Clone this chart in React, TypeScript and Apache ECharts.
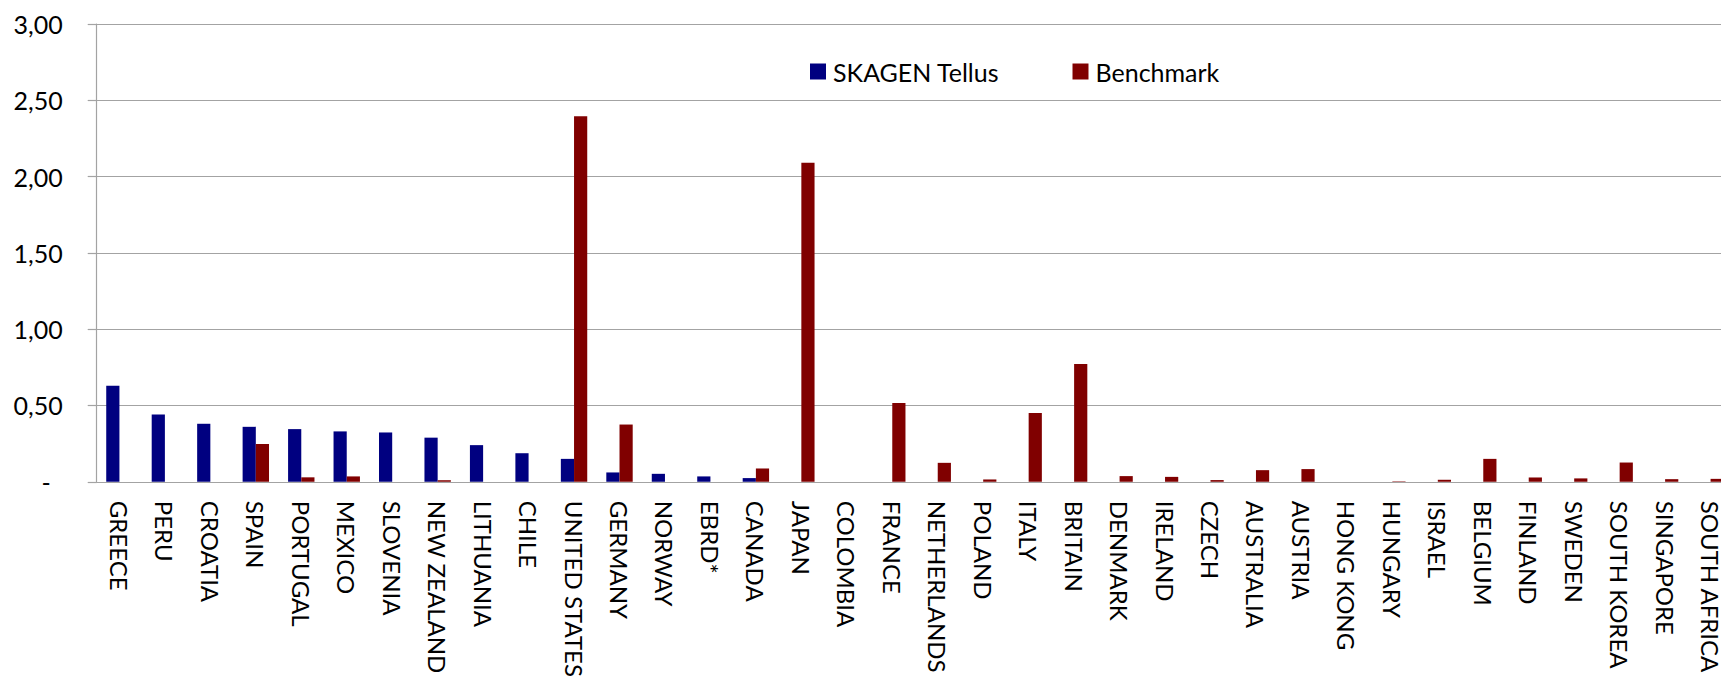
import React, { useEffect, useRef } from "react";
import * as echarts from "echarts";

// Country weights, fund vs. benchmark
const categories = [
  "GREECE", "PERU", "CROATIA", "SPAIN", "PORTUGAL", "MEXICO", "SLOVENIA",
  "NEW ZEALAND", "LITHUANIA", "CHILE", "UNITED STATES", "GERMANY", "NORWAY",
  "EBRD*", "CANADA", "JAPAN", "COLOMBIA", "FRANCE", "NETHERLANDS", "POLAND",
  "ITALY", "BRITAIN", "DENMARK", "IRELAND", "CZECH", "AUSTRALIA", "AUSTRIA",
  "HONG KONG", "HUNGARY", "ISRAEL", "BELGIUM", "FINLAND", "SWEDEN",
  "SOUTH KOREA", "SINGAPORE", "SOUTH AFRICA",
];

const tellusValues = [
  0.63, 0.44, 0.38, 0.36, 0.345, 0.33, 0.323, 0.289, 0.24, 0.187, 0.15, 0.061,
  0.052, 0.035, 0.024, 0, 0, 0, 0, 0, 0, 0, 0, 0, 0, 0, 0, 0, 0, 0, 0, 0, 0,
  0, 0, 0,
];

const benchmarkValues = [
  0, 0, 0, 0.247, 0.029, 0.035, 0, 0.01, 0, 0, 2.395, 0.375, 0, 0, 0.087,
  2.09, 0, 0.516, 0.124, 0.015, 0.451, 0.772, 0.037, 0.032, 0.011, 0.076,
  0.083, 0, 0.003, 0.013, 0.15, 0.028, 0.022, 0.126, 0.017, 0.019,
];

const seriesNames = ["SKAGEN Tellus", "Benchmark"];

const FONT = "Lato";
const GRID_COLOR = "#a3a3a3";

export default function App() {
  const ref = useRef<HTMLDivElement>(null);

  useEffect(() => {
    if (!ref.current) return;
    const chart = echarts.init(ref.current, undefined, { renderer: "svg" });

    const legendText = {
      fontFamily: FONT,
      fontSize: 25,
      lineHeight: 25,
      color: "#000",
      padding: [0, 0, 0, 2],
    };

    chart.setOption({
      animation: false,
      backgroundColor: "#fff",
      legend: [
        {
          data: [seriesNames[0]],
          left: 810,
          top: 59,
          padding: 0,
          icon: "rect",
          itemWidth: 16,
          itemHeight: 16,
          textStyle: legendText,
        },
        {
          data: [seriesNames[1]],
          left: 1072.5,
          top: 59,
          padding: 0,
          icon: "rect",
          itemWidth: 16,
          itemHeight: 16,
          textStyle: legendText,
        },
      ],
      grid: {
        left: 96.7,
        top: 24,
        width: 1636.6,
        height: 461.7,
        containLabel: false,
      },
      xAxis: {
        type: "category",
        data: categories,
        boundaryGap: true,
        axisLine: { lineStyle: { color: GRID_COLOR, width: 1.2 } },
        axisTick: { length: 9, lineStyle: { color: GRID_COLOR, width: 1.2 } },
        axisLabel: {
          rotate: -90,
          margin: 19,
          interval: 0,
          fontFamily: FONT,
          fontSize: 24,
          color: "#000",
        },
      },
      yAxis: {
        type: "value",
        min: 0,
        max: 3,
        interval: 0.5,
        axisLine: { show: true, lineStyle: { color: GRID_COLOR, width: 1.2 } },
        axisTick: { show: true, length: 9, lineStyle: { color: GRID_COLOR, width: 1.2 } },
        splitLine: { lineStyle: { color: GRID_COLOR, width: 1.2 } },
        axisLabel: {
          margin: 34,
          fontFamily: FONT,
          fontSize: 25,
          color: "#000",
          formatter: (v: number) =>
            v === 0 ? "{dash|-}" : v.toFixed(2).replace(".", ","),
          rich: {
            dash: {
              fontFamily: FONT,
              fontSize: 25,
              color: "#000",
              padding: [0, 12, 0, 0],
            },
          },
        },
      },
      series: [
        {
          name: seriesNames[0],
          type: "bar",
          data: tellusValues,
          barWidth: 13.2,
          barGap: "0%",
          itemStyle: { color: "#000080" },
        },
        {
          name: seriesNames[1],
          type: "bar",
          data: benchmarkValues,
          barWidth: 13.2,
          barGap: "0%",
          itemStyle: { color: "#800000" },
        },
      ],
    });

    return () => chart.dispose();
  }, []);

  return (
    <div
      style={{
        position: "fixed",
        left: 0,
        top: 0,
        width: 1721,
        height: 680,
        overflow: "hidden",
        background: "#fff",
      }}
    >
      <div ref={ref} style={{ width: 1760, height: 680 }} />
    </div>
  );
}
